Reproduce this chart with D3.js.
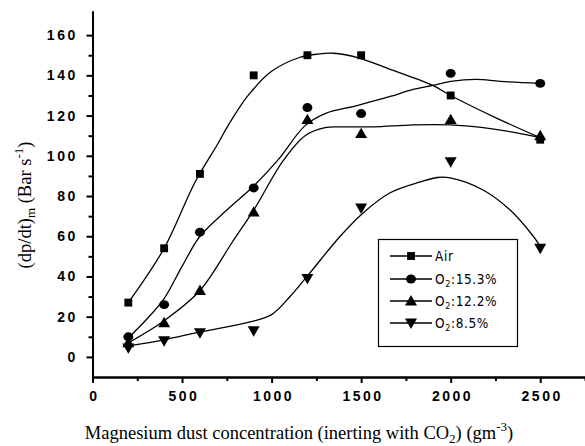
<!DOCTYPE html>
<html>
<head>
<meta charset="utf-8">
<script src="https://cdn.jsdelivr.net/npm/d3@7"></script>
<style>
  html, body { margin: 0; padding: 0; background: #fff; }
  svg { display: block; }
</style>
</head>
<body>
<svg id="chart" width="585" height="446"></svg>
<script>
// ---- Data ----
const concentrations = [200, 400, 600, 900, 1200, 1500, 2000, 2500];
const airValues    = [27, 54, 91, 140, 150, 150, 130, 108];
const o2_153Values = [10, 26, 62, 84, 124, 121, 141, 136];
const o2_122Values = [7, 17, 33, 72, 118, 111, 118, 110];
const o2_85Values  = [4.5, 8, 12, 13, 39, 74, 97, 54];

// fitted curves
const airFitX = [200, 400, 573, 700, 757, 869, 1000, 1159, 1250, 1344, 1494, 1662, 1900, 2000, 2250, 2500];
const airFitY = [27, 54, 87, 106, 115, 130, 142, 149, 150.5, 151, 148.5, 143, 135, 130, 119, 109];
const o2_153FitX = [200, 300, 400, 500, 600, 750, 900, 1036, 1187, 1299, 1477, 1662, 1790, 1900, 2000, 2146, 2277, 2500];
const o2_153FitY = [9.5, 18.5, 29, 45, 60, 73, 85, 98, 115, 121, 125, 129.5, 133, 135, 137, 138, 137, 136];
const o2_122FitX = [200, 400, 600, 780, 907, 1060, 1187, 1299, 1383, 1567, 1790, 1997, 2181, 2370, 2500];
const o2_122FitY = [7, 18, 33, 57, 74, 97, 110, 114, 114.4, 114.4, 115.4, 115.4, 114, 111.4, 109];
const o2_85FitX = [200, 400, 600, 880, 1000, 1103, 1198, 1383, 1511, 1662, 1830, 1925, 1997, 2181, 2332, 2461, 2500];
const o2_85FitY = [5.5, 8.5, 12.4, 17.4, 21, 30, 40, 60, 71.6, 81.6, 87, 89.2, 89, 83, 73, 60, 55];

const seriesNames = ["Air", "O2:15.3%", "O2:12.2%", "O2:8.5%"];
const xTicks = [0, 500, 1000, 1500, 2000, 2500];
const xMinorTicks = [250, 750, 1250, 1750, 2250, 2750];
const yTicks = [0, 20, 40, 60, 80, 100, 120, 140, 160];
const yMinorTicks = [10, 30, 50, 70, 90, 110, 130, 150];

// ---- Build ----
const svg = d3.select("#chart");
const x = d3.scaleLinear().domain([0, 2750]).range([92.5, 585]);
const y = d3.scaleLinear().domain([-10, 172]).range([377, 11]);

const series = [
  { name: seriesNames[0], vals: airValues, fx: airFitX, fy: airFitY, sym: "square" },
  { name: seriesNames[1], vals: o2_153Values, fx: o2_153FitX, fy: o2_153FitY, sym: "circle" },
  { name: seriesNames[2], vals: o2_122Values, fx: o2_122FitX, fy: o2_122FitY, sym: "up" },
  { name: seriesNames[3], vals: o2_85Values, fx: o2_85FitX, fy: o2_85FitY, sym: "down" }
];

function symbolPath(kind) {
  if (kind === "square") return d3.symbol(d3.symbolSquare, 62)();
  if (kind === "circle") return d3.symbol(d3.symbolCircle, 62)();
  return d3.symbol(d3.symbolTriangle, 62)();
}
function symbolTransform(kind, px, py) {
  if (kind === "up") return `translate(${px},${py + 1})`;
  if (kind === "down") return `translate(${px},${py - 1}) rotate(180)`;
  if (kind === "circle") return `translate(${px},${py}) scale(1.12,1)`;
  return `translate(${px},${py})`;
}

// axes
const tickFont = "'Liberation Sans', Arial, sans-serif";
const yAxisMinor = d3.axisLeft(y).tickValues(yMinorTicks).tickSize(4).tickSizeOuter(0).tickFormat("");
const yAxis = d3.axisLeft(y).tickValues(yTicks).tickSize(6).tickSizeOuter(0).tickPadding(6).tickFormat(d3.format("d"));
const xAxisMinor = d3.axisBottom(x).tickValues(xMinorTicks).tickSize(4).tickSizeOuter(0).tickFormat("");
const xAxis = d3.axisBottom(x).tickValues(xTicks).tickSize(6).tickSizeOuter(0).tickPadding(8).tickFormat(d3.format("d"));

function styleAxis(g) {
  g.select(".domain").attr("stroke", "#000").attr("stroke-width", 2);
  g.selectAll(".tick line").attr("stroke", "#000").attr("stroke-width", 2);
  g.selectAll(".tick text")
    .attr("fill", "#000")
    .style("font-family", tickFont)
    .style("font-weight", "bold")
    .style("font-size", "14px")
    .style("letter-spacing", "2.5px");
}

svg.append("g").attr("transform", "translate(92.5,0)").call(yAxisMinor).call(styleAxis);
const gy = svg.append("g").attr("transform", "translate(92.5,0)").call(yAxis).call(styleAxis);
gy.selectAll(".tick text").attr("dx", "-0.2em");
svg.append("g").attr("transform", "translate(0,377)").call(xAxisMinor).call(styleAxis);
const gx = svg.append("g").attr("transform", "translate(0,377)").call(xAxis).call(styleAxis);
gx.selectAll(".tick text").attr("dx", "0.1em");

// curves
const line = d3.line()
  .x(d => x(d[0]))
  .y(d => y(d[1]))
  .curve(d3.curveCatmullRom.alpha(0.5));

series.forEach(s => {
  const pts = s.fx.map((v, i) => [v, s.fy[i]]);
  svg.append("path")
    .attr("d", line(pts))
    .attr("fill", "none")
    .attr("stroke", "#000")
    .attr("stroke-width", 1.3);
});

// markers
series.forEach(s => {
  svg.append("g").selectAll("path")
    .data(concentrations.map((c, i) => [c, s.vals[i]]))
    .join("path")
    .attr("d", symbolPath(s.sym))
    .attr("transform", d => symbolTransform(s.sym, x(d[0]), y(d[1])))
    .attr("fill", "#000");
});

// legend
const legend = svg.append("g");
legend.append("rect")
  .attr("x", 378.5).attr("y", 239.5).attr("width", 139).attr("height", 107)
  .attr("fill", "#fff").attr("stroke", "#000").attr("stroke-width", 1.2);
const rowY = [256, 279, 301, 323];
series.forEach((s, i) => {
  const ry = rowY[i];
  legend.append("line")
    .attr("x1", 390).attr("x2", 432).attr("y1", ry).attr("y2", ry)
    .attr("stroke", "#000").attr("stroke-width", 1.3);
  legend.append("path")
    .attr("d", symbolPath(s.sym))
    .attr("transform", symbolTransform(s.sym, 411, ry))
    .attr("fill", "#000");
  const t = legend.append("text")
    .attr("x", 435).attr("y", ry + 5)
    .style("font-family", "'DejaVu Sans Condensed', 'Liberation Sans', sans-serif")
    .style("font-size", "13.5px")
    .style("letter-spacing", "0.6px")
    .attr("fill", "#000");
  if (s.name.startsWith("O2")) {
    t.append("tspan").text("O");
    t.append("tspan").text("2").attr("dy", 3).style("font-size", "9px");
    t.append("tspan").text(s.name.slice(2)).attr("dy", -3);
  } else {
    t.text(s.name);
  }
});

// axis titles
const serif = "'Liberation Serif', 'Times New Roman', serif";
const xt = svg.append("text")
  .attr("x", 299).attr("y", 439)
  .attr("text-anchor", "middle")
  .style("font-family", serif).style("font-size", "18.5px")
  .attr("fill", "#000");
xt.append("tspan").text("Magnesium dust concentration (inerting with CO");
xt.append("tspan").text("2").attr("dy", 4).style("font-size", "13px");
xt.append("tspan").text(") (gm").attr("dy", -4);
xt.append("tspan").text("-3").attr("dy", -8).style("font-size", "13px");
xt.append("tspan").text(")").attr("dy", 8);

const yt = svg.append("text")
  .attr("transform", "translate(31,205) rotate(-90)")
  .attr("text-anchor", "middle")
  .style("font-family", serif).style("font-size", "18.5px")
  .attr("fill", "#000");
yt.append("tspan").text("(dp/dt)");
yt.append("tspan").text("m").attr("dy", 4).style("font-size", "13px");
yt.append("tspan").text(" (Bar s").attr("dy", -4);
yt.append("tspan").text("-1").attr("dy", -8).style("font-size", "13px");
yt.append("tspan").text(")").attr("dy", 8);
</script>
</body>
</html>
